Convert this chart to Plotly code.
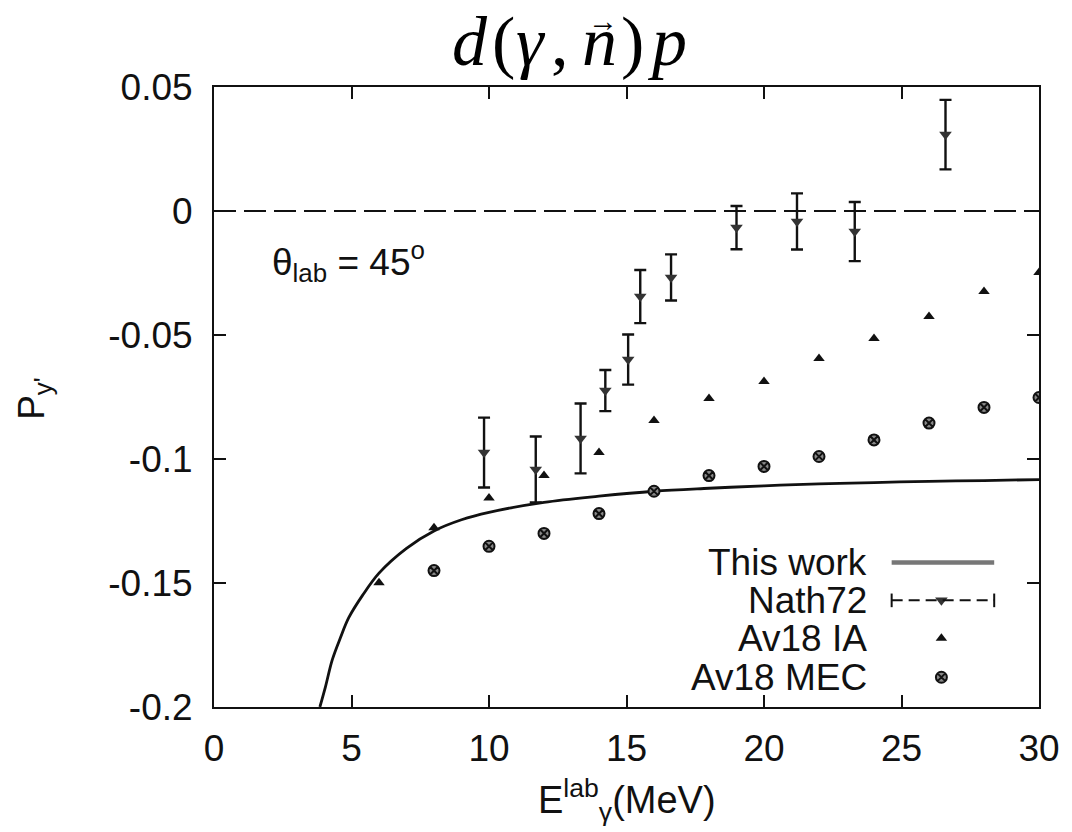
import plotly.graph_objects as go

# ---------------- data ----------------
nath_E = [9.82, 11.7, 13.33, 14.23, 15.06, 15.5, 16.62, 19.0, 21.2, 23.3, 26.6]
nath_P = [-0.0974, -0.1042, -0.0917, -0.0724, -0.0599, -0.0345, -0.0268, -0.0067, -0.0042, -0.0083, 0.0308]
nath_err = [0.0141, 0.0133, 0.0141, 0.0083, 0.0101, 0.0107, 0.0093, 0.0087, 0.0113, 0.0119, 0.0140]

ia_E = [6, 8, 10, 12, 14, 16, 18, 20, 22, 24, 26, 28, 30]
ia_P = [-0.1499, -0.1277, -0.1157, -0.1067, -0.0974, -0.0845, -0.0756, -0.0688, -0.0595, -0.0514, -0.0425, -0.0325, -0.0248]

mec_E = [8, 10, 12, 14, 16, 18, 20, 22, 24, 26, 28, 30]
mec_P = [-0.145, -0.1352, -0.130, -0.122, -0.113, -0.1067, -0.103, -0.099, -0.0923, -0.0855, -0.0792, -0.0752]

work_E = [3.85, 4.05, 4.3, 4.6, 4.9, 5.4, 6.0, 7.0, 8.0, 9.0, 10.0, 12.0, 14.0, 16.0, 18.0, 20.0, 22.0, 24.0, 26.0, 28.0, 30.0]
work_P = [-0.200, -0.192, -0.181, -0.172, -0.164, -0.155, -0.146, -0.136, -0.129, -0.1245, -0.1215, -0.1175, -0.115,
          -0.113, -0.1118, -0.1108, -0.110, -0.1095, -0.109, -0.1087, -0.1083]

x_ticks = [0, 5, 10, 15, 20, 25, 30]
y_ticks = [0.05, 0, -0.05, -0.1, -0.15, -0.2]
y_ticktext = ["0.05", "0", "-0.05", "-0.1", "-0.15", "-0.2"]

legend_labels = ["This work", "Nath72", "Av18 IA", "Av18 MEC"]

# title d(γ, n→)p, set glyph by glyph (pixel centres from the left plot edge)
title_glyphs = ["<i>d</i>", "(", "<i>γ</i>", ",", "<i>n</i>", ")", "<i>p</i>"]
title_shift = [256, 289, 317, 346, 385, 418, 453]

FONT = "Liberation Sans, Arial, sans-serif"
SERIF = "Liberation Serif, Times New Roman, serif"
INK = "#111"

fig = go.Figure()

# zero line
fig.add_trace(go.Scatter(x=[0, 30], y=[0, 0], mode="lines",
                         line=dict(color=INK, width=2, dash="22px,8px"),
                         showlegend=False, hoverinfo="skip"))

# This work curve
fig.add_trace(go.Scatter(x=work_E, y=work_P, mode="lines", line_shape="spline",
                         line=dict(color=INK, width=2.8), showlegend=False))

# Av18 IA
ia_marker = dict(symbol="triangle-up", size=10, color=INK)
fig.add_trace(go.Scatter(x=ia_E, y=ia_P, mode="markers", marker=ia_marker, showlegend=False))

# Av18 MEC
mec_marker = dict(symbol="circle-x", size=11, color="#888", line=dict(color=INK, width=2))
fig.add_trace(go.Scatter(x=mec_E, y=mec_P, mode="markers", marker=mec_marker, showlegend=False))

# Nath72 with error bars
nath_marker = dict(symbol="triangle-down", size=11, color="#333")
fig.add_trace(go.Scatter(x=nath_E, y=nath_P, mode="markers", marker=nath_marker,
                         error_y=dict(type="data", array=nath_err, visible=True,
                                      color=INK, thickness=2.4, width=6),
                         showlegend=False))

# ---------- manual gnuplot-style legend (text left, sample right) ----------
leg_y = [0.233, 0.172, 0.111, 0.048]   # paper coordinates of legend rows
for lab, yy in zip(legend_labels, leg_y):
    fig.add_annotation(xref="paper", yref="paper", x=0.7936, y=yy, text=lab,
                       showarrow=False, xanchor="right", yanchor="middle",
                       font=dict(family=FONT, size=37, color=INK))

x_s0, x_s1, x_mid = 0.8214, 0.9457, 0.8817
fig.add_shape(type="line", xref="paper", yref="paper", x0=x_s0, x1=x_s1,
              y0=leg_y[0], y1=leg_y[0], line=dict(color="#777", width=4.5))
fig.add_shape(type="line", xref="paper", yref="paper", x0=x_s0, x1=x_s1,
              y0=leg_y[1], y1=leg_y[1], line=dict(color=INK, width=2, dash="11px,6px"))
for xx in [x_s0, x_s1]:
    fig.add_shape(type="line", xref="paper", yref="paper", x0=xx, x1=xx,
                  y0=leg_y[1] - 0.011, y1=leg_y[1] + 0.011, line=dict(color=INK, width=2))

for yy, mk in zip(leg_y[1:], [nath_marker, ia_marker, mec_marker]):
    fig.add_trace(go.Scatter(x=[x_mid], y=[yy], xaxis="x2", yaxis="y2", mode="markers",
                             marker=mk, showlegend=False, hoverinfo="skip"))

# theta annotation
fig.add_annotation(xref="x", yref="y", x=2.05, y=-0.0205, text="θ<sub>lab</sub> = 45<sup>o</sup>",
                   showarrow=False, xanchor="left", yanchor="middle",
                   font=dict(family=FONT, size=37, color=INK))

# title glyphs
for g, sh in zip(title_glyphs, title_shift):
    fig.add_annotation(xref="paper", yref="paper", x=0, xshift=sh, y=1.0, yshift=46,
                       text=g, showarrow=False, xanchor="center", yanchor="middle",
                       font=dict(family=SERIF, size=70, color="#000"))
# vector arrow over n
fig.add_annotation(xref="paper", yref="paper", x=0, xshift=title_shift[4] + 4, y=1.0, yshift=67,
                   text="→", showarrow=False, xanchor="center", yanchor="middle",
                   font=dict(family=SERIF, size=30, color="#000"))

# axis titles
fig.add_annotation(xref="paper", yref="paper", x=0, xshift=-180, y=0.497, text="P<sub>y'</sub>",
                   showarrow=False, textangle=-90, xanchor="center", yanchor="middle",
                   font=dict(family=FONT, size=37, color=INK))
fig.add_annotation(xref="paper", yref="paper", x=0.5, y=0, yshift=-64,
                   text="E<sup>lab</sup><sub>γ</sub>(MeV)",
                   showarrow=False, xanchor="center", yanchor="top",
                   font=dict(family=FONT, size=38, color=INK))

axis_common = dict(showgrid=False, zeroline=False, showline=True, linecolor=INK, linewidth=2,
                   mirror="allticks", ticks="inside", ticklen=12, tickwidth=2, tickcolor=INK,
                   tickfont=dict(family=FONT, size=37, color=INK))

fig.update_layout(
    width=1072, height=832,
    margin=dict(l=214, r=29, t=87, b=125),
    paper_bgcolor="white", plot_bgcolor="white",
    showlegend=False,
    xaxis=dict(range=[0, 30], tickvals=x_ticks, ticklabelstandoff=8, **axis_common),
    yaxis=dict(range=[-0.2, 0.05], tickvals=y_ticks, ticktext=y_ticktext, ticklabelstandoff=12, **axis_common),
    xaxis2=dict(range=[0, 1], overlaying="x", visible=False, anchor="y2"),
    yaxis2=dict(range=[0, 1], overlaying="y", visible=False, anchor="x2"),
)

fig.write_html("out.html")
